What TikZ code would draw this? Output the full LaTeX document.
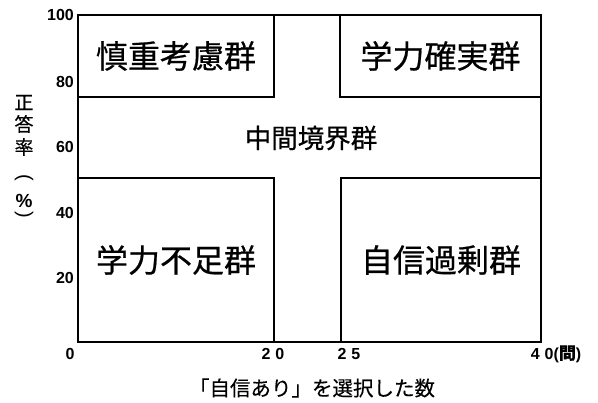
\documentclass[tikz,border=0pt]{standalone}
\usepackage{fontspec}
\setmainfont{Liberation Sans}
\newfontfamily\jp{Noto Sans CJK JP}[FakeBold=0.6]
\newfontfamily\jpv{Noto Sans CJK JP}[FakeBold=0.3]
\begin{document}
\begin{tikzpicture}[x=1pt,y=-1pt,
  grp/.style={draw,line width=1.2pt,inner sep=0pt,font=\jp\fontsize{32}{34}\selectfont},
  tick/.style={inner sep=0pt,font=\bfseries\fontsize{16}{16}\selectfont},
  lbl/.style={inner sep=0pt,font=\jpv\fontsize{20.5}{22}\selectfont},
  vch/.style={inner sep=0pt,font=\jpv\fontsize{19}{19}\selectfont},
  par/.style={inner sep=0pt,rotate=-90,font=\fontsize{20}{20}\selectfont}]
\useasboundingbox (0,0) rectangle (598,403);
\node[draw,line width=1.2pt,minimum width=463pt,minimum height=327pt,inner sep=0pt] (frame) at (309.5,178.5) {};
\node[grp,minimum width=196pt,minimum height=82pt] (tl) at (176,56) {慎重考慮群};
\node[grp,minimum width=201pt,minimum height=82pt] (tr) at (440.5,56) {学力確実群};
\node[grp,minimum width=196pt,minimum height=164pt] (bl) at (176,260) {学力不足群};
\node[grp,minimum width=200pt,minimum height=164pt] (br) at (441,260) {自信過剰群};
\node[inner sep=0pt,font=\jp\fontsize{26.5}{28}\selectfont] (mid) at (311,138) {中間境界群};
\node[tick,anchor=east] (y100) at (74,15) {100};
\node[tick,anchor=east] (y80) at (74,82) {80};
\node[tick,anchor=east] (y60) at (74,147) {60};
\node[tick,anchor=east] (y40) at (74,213) {40};
\node[tick,anchor=east] (y20) at (74,278) {20};
\node[tick] (x0) at (70,354) {0};
\node[tick] (x20) at (273,354) {2\hspace{5pt}0};
\node[tick] (x25) at (349,354) {2\hspace{5pt}5};
\node[tick] (x40) at (556,354) {4\hspace{5pt}0({\jpv\fontsize{17}{17}\selectfont 問})};
\node[lbl] (xl) at (312,388) {「自信あり」を選択した数};
\node[vch] (ya) at (24,102.5) {正};
\node[vch] (yb) at (24,124) {答};
\node[vch] (yc) at (24,147) {率};
\node[par] (yd) at (24,178) {(};
\node[inner sep=0pt,font=\bfseries\fontsize{19}{19}\selectfont] (ye) at (24,201) {\%};
\node[par] (yf) at (24,214.5) {)};
\end{tikzpicture}
\end{document}
